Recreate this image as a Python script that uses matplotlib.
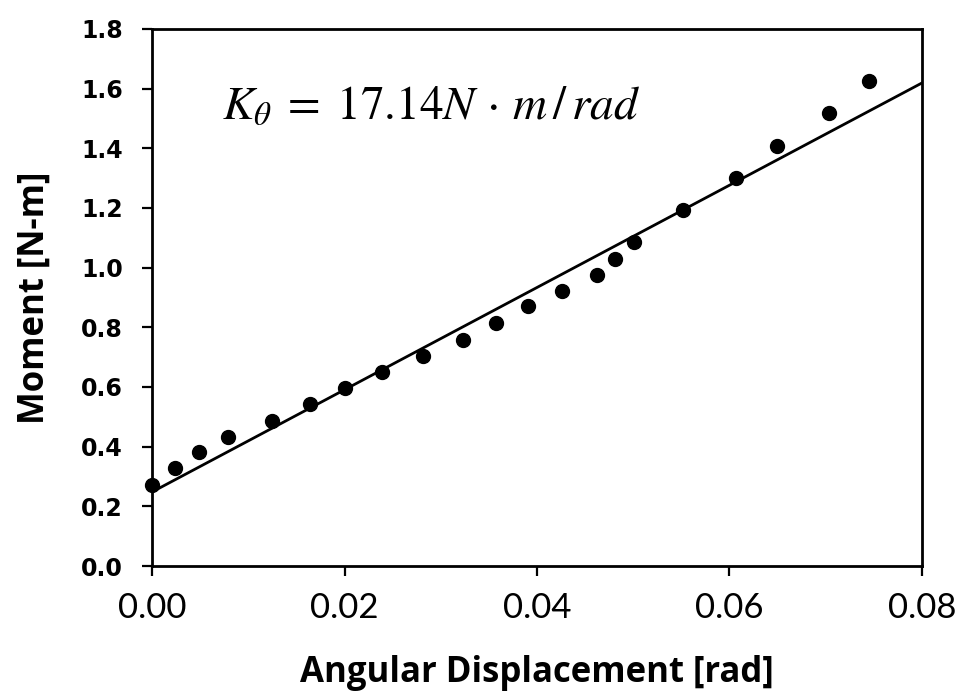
import numpy as np
import matplotlib
matplotlib.use("Agg")
import matplotlib.pyplot as plt

# Measured moment vs. angular displacement
angle_rad = [0.0000, 0.0024, 0.0049, 0.0079, 0.0125, 0.0164, 0.0201, 0.0239,
             0.0282, 0.0323, 0.0357, 0.0391, 0.0426, 0.0462, 0.0481, 0.0501,
             0.0552, 0.0607, 0.0649, 0.0703, 0.0745]
moment_nm = [0.272, 0.329, 0.383, 0.433, 0.487, 0.544, 0.598, 0.651,
             0.705, 0.759, 0.816, 0.870, 0.923, 0.977, 1.028, 1.085,
             1.192, 1.300, 1.407, 1.518, 1.625]

# Linear fit: stiffness and offset
k_theta = 17.14
offset = 0.248

x_ticks = [0.00, 0.02, 0.04, 0.06, 0.08]
y_ticks = [0.0, 0.2, 0.4, 0.6, 0.8, 1.0, 1.2, 1.4, 1.6, 1.8]

plt.rcParams["mathtext.fontset"] = "stix"

fig = plt.figure(figsize=(9.62, 6.92), dpi=100)
ax = fig.add_axes([152 / 962, 1 - 566 / 692, 770 / 962, 537 / 692])

fit_x = np.array([0.0, 0.08])
ax.plot(fit_x, offset + k_theta * fit_x, color="black", lw=2.0, zorder=2)
ax.plot(angle_rad, moment_nm, "o", color="black", ms=10, zorder=3,
        clip_on=False)

ax.set_xlim(0, 0.08)
ax.set_ylim(0, 1.8)
ax.set_xticks(x_ticks)
ax.set_yticks(y_ticks)
ax.set_xticklabels([f"{v:.2f}" for v in x_ticks], fontfamily="Lato",
                   fontsize=25)
ax.set_yticklabels([f"{v:.1f}" for v in y_ticks], fontfamily="DejaVu Sans",
                   fontsize=17, fontweight="bold")
ax.tick_params(axis="both", direction="out", length=7, width=1.6,
               colors="black")
ax.tick_params(axis="x", pad=12)
ax.tick_params(axis="y", pad=14)
for side in ax.spines.values():
    side.set_linewidth(2.0)

ax.set_xlabel("Angular Displacement [rad]", fontfamily="Open Sans",
              fontweight="bold", fontsize=25, labelpad=22)
ax.set_ylabel("Moment [N-m]", fontfamily="Open Sans", fontweight="bold",
              fontsize=25, labelpad=20)

ax.text(0.091, 0.833, r"$K_{\theta}\;=\;17.14N\,\cdot\,m\,/\,rad$",
        transform=ax.transAxes, fontsize=34, va="baseline", ha="left")

fig.savefig("out.png", dpi=100)
